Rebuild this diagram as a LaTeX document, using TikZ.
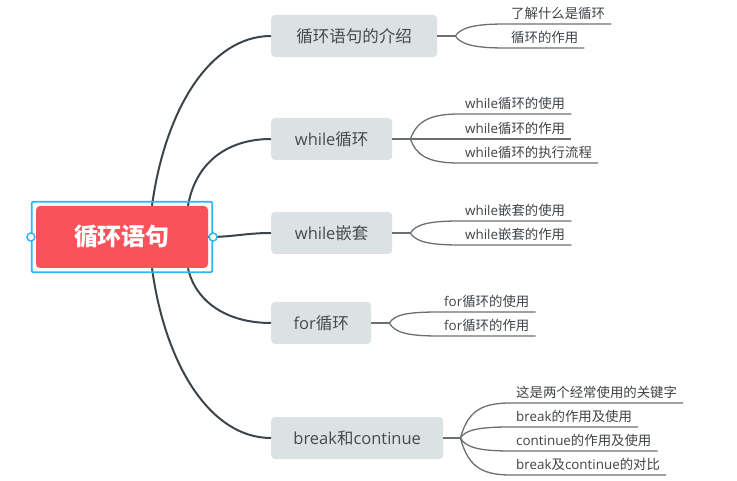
\documentclass[tikz,border=0pt]{standalone}
\usepackage{fontspec}
\setmainfont{Noto Sans CJK SC}
\newfontfamily\lat{Open Sans}
\newcommand{\en}[1]{{\lat #1}}
\usetikzlibrary{fit}
\definecolor{rootred}{HTML}{F9525B}
\definecolor{selblue}{HTML}{2DB6F5}
\definecolor{topicgray}{HTML}{DCE1E3}
\definecolor{topictext}{HTML}{474B50}
\definecolor{trunkgray}{HTML}{3E444B}
\definecolor{twiggray}{HTML}{6A6F74}
\definecolor{leaftext}{HTML}{3F4347}
\tikzstyle{root}=[rounded corners=4pt, minimum width=172pt, minimum height=62pt, inner sep=0, fill=rootred, text=white, font=\fontsize{24}{28}\selectfont\bfseries]
\tikzstyle{selbox}=[draw=selblue, line width=1.8pt, rounded corners=1pt, inner sep=4pt]
\tikzstyle{handle}=[circle, minimum size=8pt, inner sep=0, draw=selblue, line width=1.5pt, fill=white]
\tikzstyle{topic}=[anchor=west, rounded corners=4pt, minimum height=42pt, inner sep=0, fill=topicgray, text=topictext, font=\fontsize{16.5}{20}\selectfont]
\tikzstyle{leaf}=[anchor=south west, inner xsep=6pt, inner ysep=5pt, text depth=0pt, text=leaftext, font=\fontsize{13.4}{16}\selectfont]
\tikzstyle{trunk}=[draw=trunkgray, line width=2pt]
\tikzstyle{twig}=[draw=twiggray, line width=1.3pt]

\begin{document}
\begin{tikzpicture}[x=1pt, y=-1pt]
\useasboundingbox (0, 0) rectangle (737, 481);

\node [root] (root) at (122, 237) {循环语句};

\node [topic, minimum width=166pt] (t1) at (271, 36) {循环语句的介绍};
\node [topic, minimum width=121pt] (t2) at (271, 139) {\en{while}循环};
\node [topic, minimum width=121pt] (t3) at (271, 233) {\en{while}嵌套};
\node [topic, minimum width=100pt] (t4) at (271, 323) {\en{for}循环};
\node [topic, minimum width=172pt] (t5) at (271, 438) {\en{break}和\en{continue}};

\node [leaf] (s11) at (505, 24) {了解什么是循环};
\node [leaf] (s12) at (505, 48) {循环的作用};

\node [leaf] (s21) at (459, 114) {\en{while}循环的使用};
\node [leaf] (s22) at (459, 139) {\en{while}循环的作用};
\node [leaf] (s23) at (459, 163) {\en{while}循环的执行流程};

\node [leaf] (s31) at (459, 221) {\en{while}嵌套的使用};
\node [leaf] (s32) at (459, 245) {\en{while}嵌套的作用};

\node [leaf] (s41) at (438, 312) {\en{for}循环的使用};
\node [leaf] (s42) at (438, 336) {\en{for}循环的作用};

\node [leaf] (s51) at (510, 403) {这是两个经常使用的关键字};
\node [leaf] (s52) at (510, 427) {\en{break}的作用及使用};
\node [leaf] (s53) at (510, 451) {\en{continue}的作用及使用};
\node [leaf] (s54) at (510, 475) {\en{break}及\en{continue}的对比};

\coordinate (f1) at ([xshift=18pt]t1.east);
\coordinate (f2) at ([xshift=18pt]t2.east);
\coordinate (f3) at ([xshift=18pt]t3.east);
\coordinate (f4) at ([xshift=18pt]t4.east);
\coordinate (f5) at ([xshift=17pt]t5.east);

\draw [trunk] ([xshift=30pt]root.north) .. controls +(13, -96) and +(-61, 0) .. (t1.west);
\draw [trunk] ([xshift=66pt]root.north) .. controls +(7, -41) and +(-46, 0) .. (t2.west);
\draw [trunk] (root.east) .. controls +(25, 0) and +(-25, 0) .. (t3.west);
\draw [trunk] ([xshift=66pt]root.south) .. controls +(7, 32) and +(-46, 0) .. (t4.west);
\draw [trunk] ([xshift=30pt]root.south) .. controls +(13, 96) and +(-61, 0) .. (t5.west);

\draw [twig] (t1.east) -- (f1);
\draw [twig] (t2.east) -- (f2);
\draw [twig] (t3.east) -- (f3);
\draw [twig] (t4.east) -- (f4);
\draw [twig] (t5.east) -- (f5);

\draw [twig] (f1) .. controls +(5, -8) and +(-32, 0) .. (s11.south west) -- (s11.south east);
\draw [twig] (f1) .. controls +(5, 8) and +(-32, 0) .. (s12.south west) -- (s12.south east);

\draw [twig] (f2) .. controls +(6, -16) and +(-32, 0) .. (s21.south west) -- (s21.south east);
\draw [twig] (f2) -- (s22.south west) -- (s22.south east);
\draw [twig] (f2) .. controls +(6, 16) and +(-32, 0) .. (s23.south west) -- (s23.south east);

\draw [twig] (f3) .. controls +(5, -8) and +(-32, 0) .. (s31.south west) -- (s31.south east);
\draw [twig] (f3) .. controls +(5, 8) and +(-32, 0) .. (s32.south west) -- (s32.south east);

\draw [twig] (f4) .. controls +(5, -8) and +(-32, 0) .. (s41.south west) -- (s41.south east);
\draw [twig] (f4) .. controls +(5, 9) and +(-32, 0) .. (s42.south west) -- (s42.south east);

\draw [twig] (f5) .. controls +(7, -24) and +(-32, 0) .. (s51.south west) -- (s51.south east);
\draw [twig] (f5) .. controls +(5, -8) and +(-32, 0) .. (s52.south west) -- (s52.south east);
\draw [twig] (f5) .. controls +(5, 9) and +(-32, 0) .. (s53.south west) -- (s53.south east);
\draw [twig] (f5) .. controls +(7, 25) and +(-32, 0) .. (s54.south west) -- (s54.south east);

\node [selbox, fit=(root)] (sel) {};
\node [handle] (hl) at (sel.west) {};
\node [handle] (hr) at (sel.east) {};

\end{tikzpicture}
\end{document}
